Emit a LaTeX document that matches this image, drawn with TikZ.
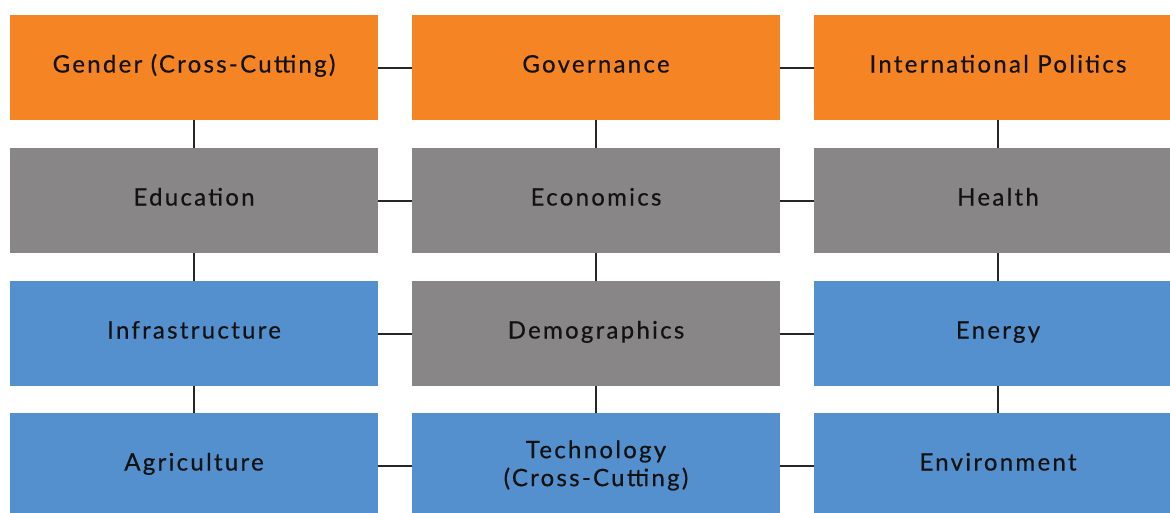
\documentclass[tikz,border=0pt]{standalone}
\usepackage{fontspec}
\setmainfont{Lato}[LetterSpace=9.5, FakeBold=0.5]
\definecolor{cOrange}{HTML}{F48424}
\definecolor{cGray}{HTML}{888687}
\definecolor{cBlue}{HTML}{5590CE}
\definecolor{cText}{HTML}{121212}
\begin{document}
\begin{tikzpicture}[x=1pt,y=1pt,
  box/.style={rectangle, draw=none, minimum width=368pt, minimum height=105pt,
    inner sep=0pt, align=center, text=cText, font=\fontsize{24}{28}\selectfont},
  onebox/.style={box, text height=18pt, text depth=8pt},
  orangebox/.style={onebox, fill=cOrange},
  graybox/.style={onebox, fill=cGray},
  bluebox/.style={onebox, fill=cBlue},
  bluetwobox/.style={box, fill=cBlue},
  link/.style={draw=black!85, line width=2pt}]
\useasboundingbox (0,0) rectangle (1170,-512);
\clip (0,0) rectangle (1170,-512);
% row 1
\node[orangebox] (gender) at (194,-67.5) {Gender (Cross-Cutting)};
\node[orangebox] (gov) at (596,-67.5) {Governance};
\node[orangebox] (intl) at (998,-67.5) {International Politics};
% row 2
\node[graybox] (edu) at (194,-200.5) {Education};
\node[graybox] (eco) at (596,-200.5) {Economics};
\node[graybox] (health) at (998,-200.5) {Health};
% row 3
\node[bluebox] (infra) at (194,-333.5) {Infrastructure};
\node[graybox] (demo) at (596,-333.5) {Demographics};
\node[bluebox] (energy) at (998,-333.5) {Energy};
% row 4
\node[bluebox] (agri) at (194,-465.5) {Agriculture};
\node[bluetwobox] (tech) at (596,-465.5) {Technology\\(Cross-Cutting)};
\node[bluebox] (env) at (998,-465.5) {Environment};
% horizontal connectors
\foreach \a/\b in {gender/gov, gov/intl, edu/eco, eco/health, infra/demo, demo/energy, agri/tech, tech/env}
  \draw[link] (\a.east) -- (\b.west);
% vertical connectors
\foreach \a/\b in {gender/edu, edu/infra, infra/agri, gov/eco, eco/demo, demo/tech, intl/health, health/energy, energy/env}
  \draw[link] (\a.south) -- (\b.north);
\end{tikzpicture}
\end{document}
